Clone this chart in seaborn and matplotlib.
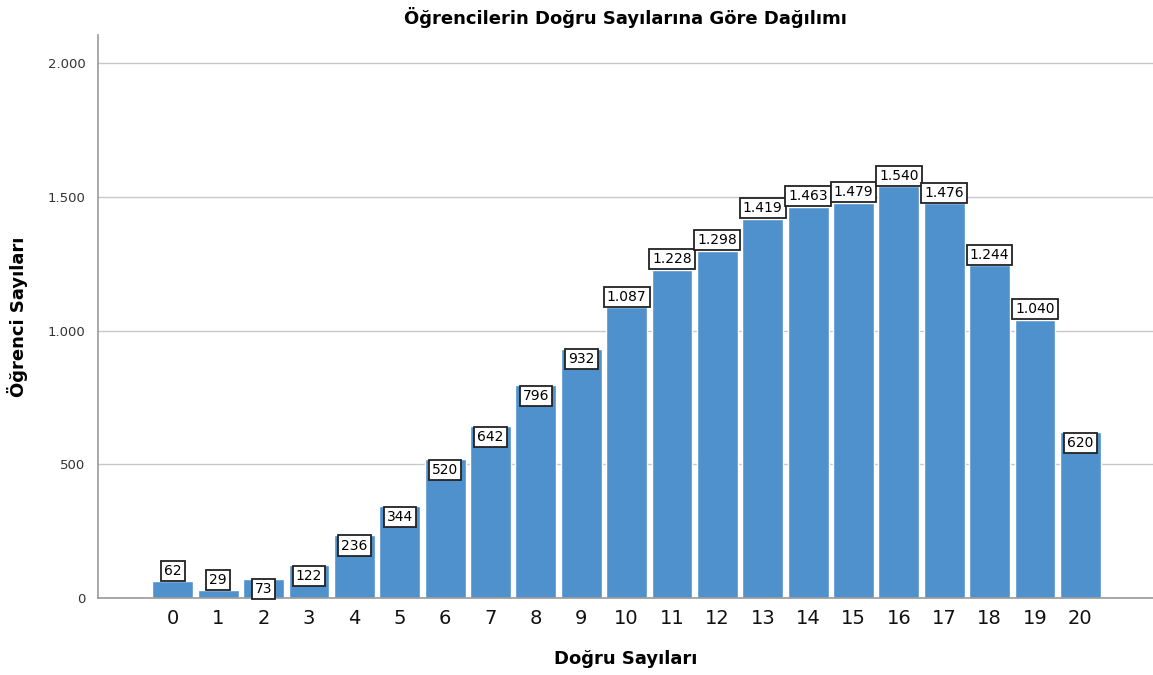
import numpy as np
import pandas as pd
import matplotlib
matplotlib.use("Agg")
import matplotlib.pyplot as plt
import seaborn as sns

# Datos
dogru_sayilari = [str(i) for i in range(21)]
ogrenci_sayilari = [62, 29, 73, 122, 236, 344, 520, 642, 796, 932, 1087,
                    1228, 1298, 1419, 1463, 1479, 1540, 1476, 1244, 1040, 620]
y_ticks = [0, 500, 1000, 1500, 2000]
y_tick_labels = ["0", "500", "1.000", "1.500", "2.000"]

BAR_COLOR = "#4f91cd"


def fmt_tr(v):
    return f"{v:,}".replace(",", ".")


def main():
    sns.set_theme(style="white")
    plt.rcParams["font.family"] = ["DejaVu Sans"]

    df = pd.DataFrame({"dogru": dogru_sayilari, "ogrenci": ogrenci_sayilari})

    fig = plt.figure(figsize=(11.53, 6.75), dpi=100)
    ax = fig.add_axes([0.085, 0.114, 0.915, 0.834])

    sns.barplot(data=df, x="dogru", y="ogrenci", ax=ax, color=BAR_COLOR,
                saturation=1, width=0.9, edgecolor="white", linewidth=1.0,
                zorder=2)

    ax.set_xlim(-1.65, 21.6)
    ax.set_ylim(0, 2105)
    ax.set_yticks(y_ticks)
    ax.set_yticklabels(y_tick_labels, fontsize=9.5, color="#333333")
    ax.tick_params(axis="x", labelsize=14, length=0, pad=8, labelcolor="#111111")
    ax.tick_params(axis="y", length=5, width=0.8, color="#999999", pad=4)
    ax.yaxis.grid(True, color="#c8c8c8", linewidth=1.0, zorder=0)
    ax.set_axisbelow(True)

    for side in ["top", "right"]:
        ax.spines[side].set_visible(False)
    for side in ["left", "bottom"]:
        ax.spines[side].set_color("#999999")
        ax.spines[side].set_linewidth(1.2)

    # Etiquetas de valor en recuadros (dentro o encima del borde superior)
    for i, v in enumerate(ogrenci_sayilari):
        inside = 70 < v < 1000
        va = "top" if inside else "bottom"
        dy = -2.6 if inside else 2.6
        ax.annotate(fmt_tr(v), (i, v), xytext=(0, dy), textcoords="offset points",
                    ha="center", va=va, fontsize=10, color="#000000", zorder=5,
                    bbox=dict(boxstyle="square,pad=0.22", fc="white",
                              ec="#222222", lw=1.3))

    ax.set_title("Öğrencilerin Doğru Sayılarına Göre Dağılımı",
                 fontsize=13, fontweight="bold", pad=8, color="#000000")
    ax.set_xlabel("Doğru Sayıları", fontsize=13, fontweight="bold",
                  labelpad=16, color="#000000")
    ax.set_ylabel("Öğrenci Sayıları", fontsize=13, fontweight="bold",
                  color="#000000")
    ax.yaxis.set_label_coords(-0.066, 0.5)

    fig.savefig("out.png", dpi=100)
    plt.close(fig)


if __name__ == "__main__":
    main()
